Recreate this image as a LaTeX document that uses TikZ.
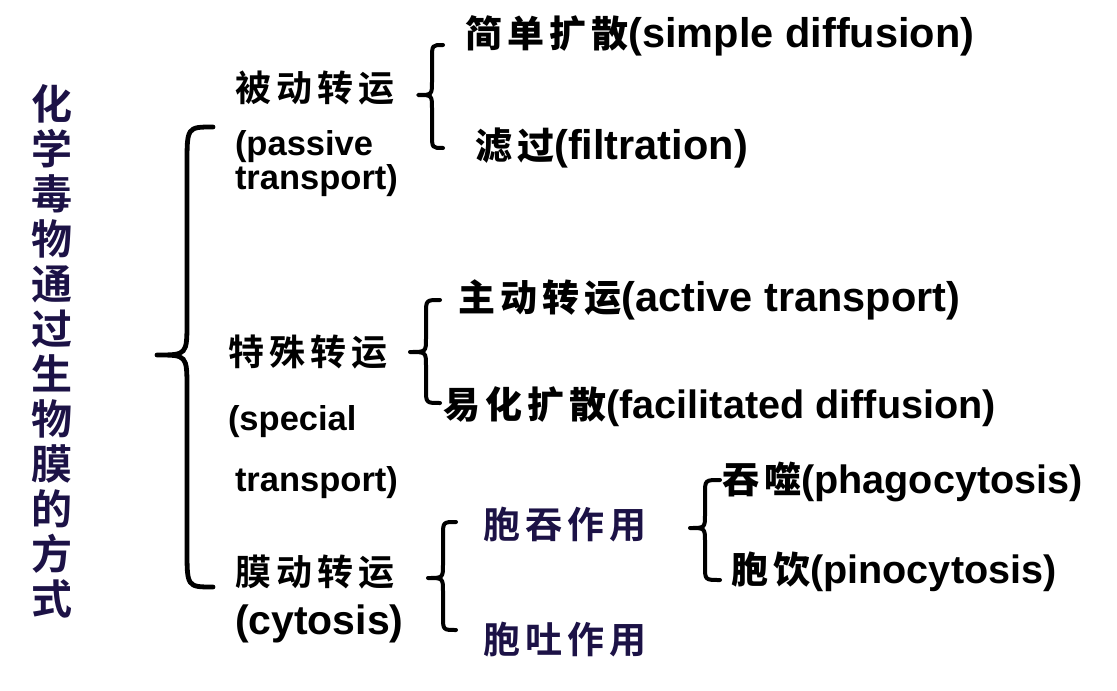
\documentclass[tikz,border=0pt]{standalone}
\usepackage{fontspec}
\setmainfont{Liberation Sans}
\newfontfamily\cjk[LetterSpace=14]{Noto Sans CJK SC Bold}
\newfontfamily\cjkt{Noto Sans CJK SC Bold}
\definecolor{titlecol}{RGB}{28,18,70}
\newcommand\zhb[1]{{\cjk\fontsize{18.5pt}{20pt}\selectfont #1}}
% #1 cusp x, #2 stem x, #3 end x, #4 top y, #5 mid y, #6 bottom y, #7 hook h, #8 cusp h
\newcommand\drawbrace[9]{\draw[#9] (#3,#4) .. controls (#2,#4) .. (#2,{#4+#7}) -- (#2,{#5-#8}) .. controls (#2,#5) .. (#1,#5) .. controls (#2,#5) .. (#2,{#5+#8}) -- (#2,{#6-#7}) .. controls (#2,#6) .. (#3,#6);}
\begin{document}
\begin{tikzpicture}[x=0.5pt,y=-0.5pt,
  lab/.style={inner sep=0pt, outer sep=0pt, text=black},
  cnone/.style={lab, font=\cjk\fontsize{18pt}{20pt}\selectfont, anchor=west},
  cntwo/.style={lab, text=titlecol, font=\cjk\fontsize{18.5pt}{20pt}\selectfont, anchor=west},
  enone/.style={lab, font=\bfseries\fontsize{17.25pt}{20pt}\selectfont, anchor=base west},
  enbig/.style={lab, font=\bfseries\fontsize{20.5pt}{22pt}\selectfont, anchor=base west},
  mixa/.style={lab, font=\bfseries\fontsize{20.75pt}{22pt}\selectfont, anchor=base west},
  mixb/.style={lab, font=\bfseries\fontsize{19.8pt}{22pt}\selectfont, anchor=base west},
  titlestyle/.style={lab, text=titlecol, align=center, font=\cjkt\fontsize{20.5pt}{22.5pt}\selectfont},
  bigbrace/.style={draw=black, line width=2.4pt, line cap=round, line join=round},
  smallbrace/.style={draw=black, line width=2pt, line cap=round, line join=round}]
\fill[white] (0,0) rectangle (1117,690);
\useasboundingbox (0,0) rectangle (1117,690);

% title
\node[titlestyle] (title) at (52,351) {化\\学\\毒\\物\\通\\过\\生\\物\\膜\\的\\方\\式};

% big brace
\drawbrace{157}{187}{213}{127}{355}{587}{38}{34}{bigbrace}

% level 1
\node[cnone] (pcn) at (235,88) {被动转运};
\node[enone] (pen1) at (235,155) {(passive};
\node[enone] (pen2) at (235,189) {transport)};
\node[cnone] (scn) at (228,352) {特殊转运};
\node[enone] (sen1) at (228,430) {(special};
\node[enone] (sen2) at (235,491) {transport)};
\node[cnone] (ccn) at (235,572) {膜动转运};
\node[enbig] (cen) at (235,634) {(cytosis)};

% level 2 braces
\drawbrace{418}{432}{443}{45}{95}{148}{14}{14}{smallbrace}
\drawbrace{410}{426}{440}{300}{352}{403}{14}{14}{smallbrace}
\drawbrace{428}{443}{456}{522}{578}{630}{14}{14}{smallbrace}
\drawbrace{690}{705}{720}{480}{528}{580}{14}{14}{smallbrace}

% level 2
\node[mixa] (sd) at (465,48) {\zhb{简单扩散}(simple diffusion)};
\node[mixa] (fi) at (475,159) {\zhb{滤过}(filtration)};
\node[mixa] (at) at (458,311) {\zhb{主动转运}(active transport)};
\node[mixb] (fd) at (443,418) {\zhb{易化扩散}(facilitated diffusion)};
\node[cntwo] (endo) at (483,525) {胞吞作用};
\node[cntwo] (exo) at (483,640) {胞吐作用};
\node[mixb] (ph) at (722,493) {\zhb{吞噬}(phagocytosis)};
\node[mixb] (pi) at (731,583) {\zhb{胞饮}(pinocytosis)};
\end{tikzpicture}
\end{document}
